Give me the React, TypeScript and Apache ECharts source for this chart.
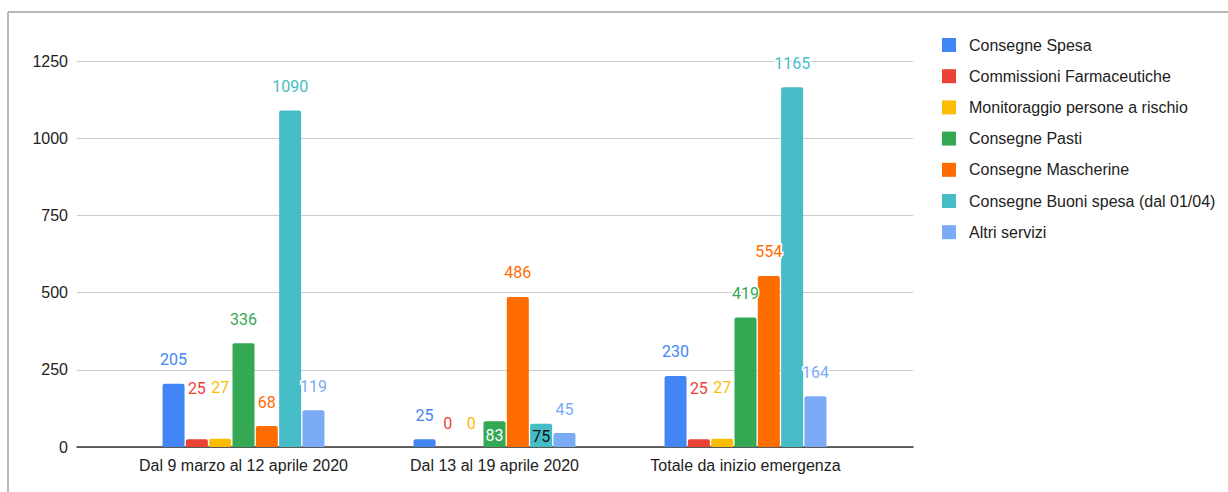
import React, { useEffect, useRef } from "react";
import * as echarts from "echarts";

const categories = [
  "Dal 9 marzo al 12 aprile 2020",
  "Dal 13 al 19 aprile 2020",
  "Totale da inizio emergenza",
];

const seriesNames = [
  "Consegne Spesa",
  "Commissioni Farmaceutiche",
  "Monitoraggio persone a rischio",
  "Consegne Pasti",
  "Consegne Mascherine",
  "Consegne Buoni spesa (dal 01/04)",
  "Altri servizi",
];

const consegneSpesa = [205, 25, 230];
const commissioniFarmaceutiche = [25, 0, 25];
const monitoraggio = [27, 0, 27];
const consegnePasti = [336, 83, 419];
const consegneMascherine = [68, 486, 554];
const buoniSpesa = [1090, 75, 1165];
const altriServizi = [119, 45, 164];

const yTicks = [0, 250, 500, 750, 1000, 1250];

const colors = ["#4285F4", "#EA4335", "#FBBC04", "#34A853", "#FF6D01", "#46BDC6", "#7BAAF7"];

const allValues = [
  consegneSpesa,
  commissioniFarmaceutiche,
  monitoraggio,
  consegnePasti,
  consegneMascherine,
  buoniSpesa,
  altriServizi,
];

// label overrides: [seriesIndex][categoryIndex]
function labelFor(si: number, ci: number): any {
  if ((si === 1 || si === 2) && (ci === 0 || ci === 2)) {
    return { distance: 43 };
  }
  if (si === 3 && ci === 1) {
    return { position: "insideTop", distance: 6, color: "#ffffff", textBorderWidth: 0 };
  }
  if (si === 5 && ci === 1) {
    return { position: "insideTop", distance: 5, color: "#111111", textBorderWidth: 0 };
  }
  return undefined;
}

export default function App() {
  const ref = useRef<HTMLDivElement>(null);
  useEffect(() => {
    if (!ref.current) return;
    const chart = echarts.init(ref.current, undefined, { renderer: "svg" });
    const axisFont = "'Liberation Sans', Arial, sans-serif";
    const gridTop = 61;
    const gridBottom = 45;
    const option: any = {
      animation: false,
      backgroundColor: "#ffffff",
      grid: [
        { left: 77, right: 315, top: gridTop, bottom: gridBottom },
        { left: 118, right: 357, top: gridTop, bottom: gridBottom },
      ],
      legend: {
        orient: "vertical",
        left: 937,
        top: 32,
        itemWidth: 14,
        itemHeight: 14,
        itemGap: 15.2,
        icon: "rect",
        data: seriesNames,
        itemStyle: { borderRadius: 2 },
        textStyle: {
          fontFamily: axisFont,
          fontSize: 16,
          color: "#222222",
          padding: [0, 0, 0, 8],
        },
      },
      xAxis: [
        {
          type: "category",
          gridIndex: 0,
          data: [""],
          axisLine: { show: true, lineStyle: { color: "#333333", width: 1.5 } },
          axisTick: { show: false },
          axisLabel: { show: false },
          splitLine: { show: false },
        },
        {
          type: "category",
          gridIndex: 1,
          data: categories,
          axisLine: { show: false },
          axisTick: { show: false },
          axisLabel: {
            interval: 0,
            fontFamily: axisFont,
            fontSize: 16,
            color: "#222222",
            margin: 10,
          },
        },
      ],
      yAxis: [
        {
          type: "value",
          gridIndex: 0,
          min: yTicks[0],
          max: yTicks[yTicks.length - 1],
          interval: 250,
          axisLine: { show: false },
          axisTick: { show: false },
          axisLabel: {
            fontFamily: axisFont,
            fontSize: 16,
            color: "#222222",
            margin: 9,
            formatter: (v: number) => String(v),
          },
          splitLine: { lineStyle: { color: "#cccccc", width: 1 } },
        },
        {
          type: "value",
          gridIndex: 1,
          min: yTicks[0],
          max: yTicks[yTicks.length - 1],
          interval: 250,
          show: false,
          splitLine: { show: false },
        },
      ],
      series: allValues.map((vals, si) => ({
        name: seriesNames[si],
        type: "bar",
        xAxisIndex: 1,
        yAxisIndex: 1,
        barWidth: 22,
        barGap: "6%",
        itemStyle: { color: colors[si], borderRadius: [2, 2, 0, 0] },
        label: {
          show: true,
          position: "top",
          distance: 16,
          fontFamily: "Roboto, sans-serif",
          fontSize: 16,
          color: colors[si],
          textBorderColor: "#ffffff",
          textBorderWidth: 3,
        },
        data: vals.map((v, ci) => {
          const l = labelFor(si, ci);
          return l ? { value: v, label: l } : v;
        }),
      })),
      graphic: [
        {
          type: "line",
          shape: { x1: 8, y1: 12, x2: 1228, y2: 12 },
          style: { stroke: "#a0a0a0", lineWidth: 1.5 },
        },
        {
          type: "line",
          shape: { x1: 8, y1: 12, x2: 8, y2: 492 },
          style: { stroke: "#a0a0a0", lineWidth: 1.5 },
        },
      ],
    };
    chart.setOption(option);
    return () => chart.dispose();
  }, []);
  return (
    <div
      ref={ref}
      style={{ position: "fixed", left: 0, top: 0, width: 1228, height: 492 }}
    />
  );
}
